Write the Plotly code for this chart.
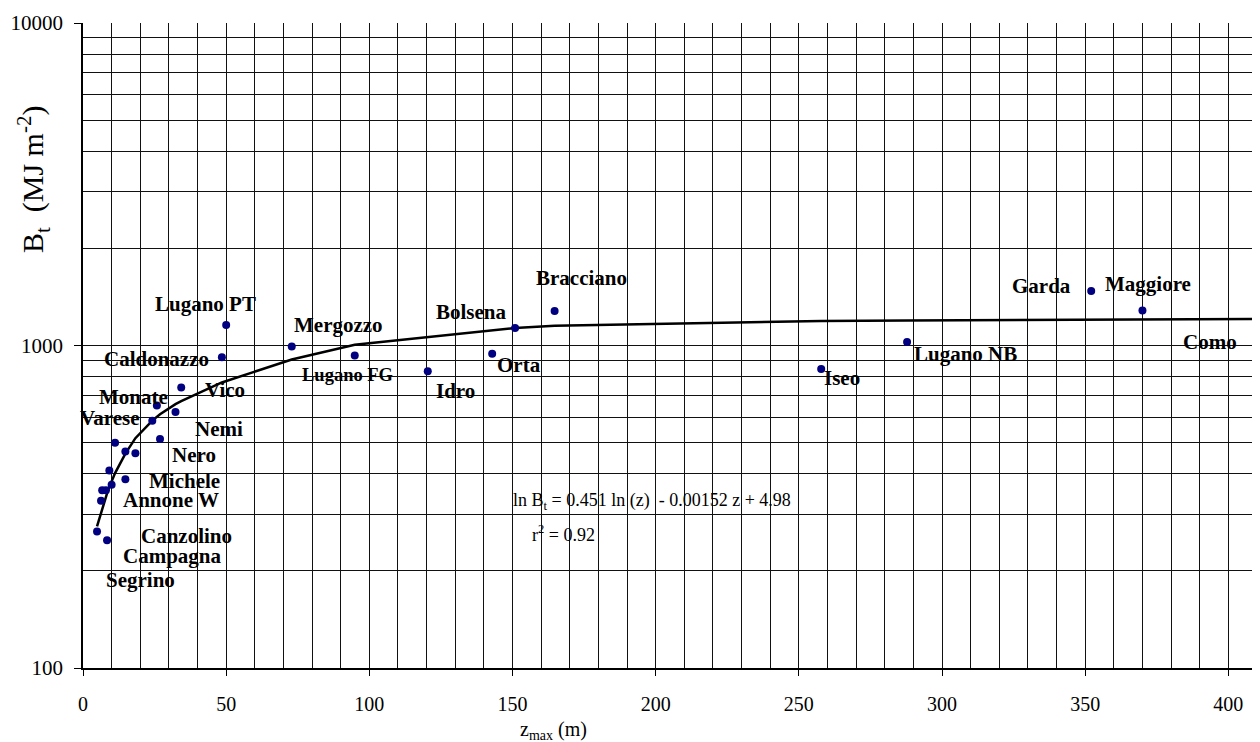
import math
import plotly.graph_objects as go

# ---- data ----
z_max = [4.9, 6.3, 6.7, 8.0, 8.4, 9.2, 10.0, 11.2, 14.8, 14.8, 18.3, 24.2, 25.8, 26.9,
         32.3, 34.3, 48.5, 50.0, 72.9, 94.9, 120.4, 142.9, 150.9, 164.7, 257.8, 287.8,
         352.1, 370.0, 409.7]
b_t = [265, 330, 356, 356, 249, 410, 370, 499, 469, 385, 463, 584, 651, 513,
       622, 741, 919, 1158, 993, 931, 832, 943, 1134, 1279, 846, 1026,
       1476, 1285, 1281]

# fitted curve as drawn in the reference
fit_z = [4.9, 6.3, 6.7, 8.0, 8.4, 9.2, 10.0, 11.2, 14.8, 18.3, 24.2, 25.8, 26.9,
         32.3, 34.3, 48.5, 50.0, 72.9, 94.9, 120.4, 142.9, 150.9, 164.7, 257.8,
         287.8, 352.1, 370.0, 409.7]
fit_b = [275, 303, 312, 340, 348, 364, 380, 402, 462, 516, 585, 600, 612,
         658, 672, 768, 776, 905, 1005, 1063, 1115, 1134, 1152, 1191,
         1196, 1203, 1205, 1209]

lake_labels = ["Lugano PT", "Mergozzo", "Caldonazzo", "Vico", "Monate", "Varese",
               "Pusiano", "Nemi", "Oggiono", "Nero", "Alserio", "Michele", "Annone W",
               "Comabbio", "Candia", "Canzolino", "Campagna", "Segrino", "Lugano FG",
               "Idro", "Orta", "Bolsena", "Bracciano", "Iseo", "Lugano NB", "Garda",
               "Maggiore", "Como"]

x_ticks = [0, 50, 100, 150, 200, 250, 300, 350, 400]
y_ticks = [100, 1000, 10000]
y_minor = [200, 300, 400, 500, 600, 700, 800, 900,
           2000, 3000, 4000, 5000, 6000, 7000, 8000, 9000]

equation_text = "ln B<sub>t</sub> = 0.451 ln (z) \u00a0- 0.00152 z + 4.98"
r2_text = "r<sup>2</sup> = 0.92"

# ---- layout positions for label text (data units) ----
label_pos = {
    "Lugano PT": (42.8, 1346), "Mergozzo": (89.4, 1160), "Caldonazzo": (25.8, 906),
    "Vico": (49.6, 727), "Monate": (17.8, 692), "Varese": (9.4, 596),
    "Pusiano": (-3.5, 555), "Nemi": (47.5, 551), "Oggiono": (-5.2, 465),
    "Nero": (38.7, 459), "Alserio": (-5.6, 387), "Michele": (35.3, 381),
    "Annone W": (30.7, 331), "Comabbio": (-9.1, 322), "Candia": (-6.1, 270),
    "Canzolino": (36.3, 257), "Campagna": (31.4, 223), "Segrino": (20.2, 188),
    "Lugano FG": (92.3, 809), "Idro": (130.2, 722), "Orta": (152.4, 868),
    "Bolsena": (135.8, 1273), "Bracciano": (174.0, 1619), "Iseo": (264.9, 791),
    "Lugano NB": (308.2, 938), "Garda": (334.7, 1530), "Maggiore": (371.9, 1552),
    "Como": (393.7, 1029),
}

SERIF = "Liberation Serif, Times New Roman, serif"

fig = go.Figure()
fig.add_trace(go.Scatter(x=fit_z, y=fit_b, mode="lines",
                         line=dict(color="black", width=2.5),
                         hoverinfo="skip", showlegend=False, cliponaxis=False))
fig.add_trace(go.Scatter(x=z_max, y=b_t, mode="markers",
                         marker=dict(color="#000080", size=8),
                         showlegend=False, cliponaxis=False))

annotations = []
for name in lake_labels:
    lx, ly = label_pos[name]
    size = 18.5 if name == "Lugano FG" else 21
    annotations.append(dict(x=lx, y=math.log10(ly), xref="x", yref="y",
                            yanchor="middle", xanchor="center",
                            text="<b>%s</b>" % name, showarrow=False,
                            font=dict(family=SERIF, size=size, color="black")))

annotations.append(dict(x=149.4, y=math.log10(328), xref="x", yref="y",
                        xanchor="left", yanchor="middle", text=equation_text,
                        showarrow=False, font=dict(family=SERIF, size=18, color="black")))
annotations.append(dict(x=156.0, y=math.log10(262), xref="x", yref="y",
                        xanchor="left", yanchor="middle", text=r2_text,
                        showarrow=False, font=dict(family=SERIF, size=18, color="black")))
annotations.append(dict(x=-0.0426, y=0.758, xref="paper", yref="paper",
                        xanchor="center", yanchor="middle", textangle=-90,
                        text="B<sub>t</sub> \u00a0(MJ m<sup>-2</sup>)", showarrow=False,
                        font=dict(family=SERIF, size=30, color="black")))
annotations.append(dict(x=0.401, y=-0.097, xref="paper", yref="paper",
                        xanchor="center", yanchor="middle",
                        text="z<sub>max</sub> (m)", showarrow=False,
                        font=dict(family=SERIF, size=20, color="black")))

fig.update_layout(
    width=1252, height=734,
    margin=dict(l=75, r=3, t=10, b=74),
    paper_bgcolor="white", plot_bgcolor="white",
    font=dict(family=SERIF, size=20, color="black"),
    annotations=annotations,
    xaxis=dict(range=[0, 410], tickvals=x_ticks, showgrid=True, gridcolor="#111",
               gridwidth=1, zeroline=False, showline=True, linecolor="black",
               linewidth=2, ticks="outside", ticklen=6, tickcolor="black",
               ticklabelstandoff=11, tickfont=dict(size=20),
               ticklabeloverflow="allow",
               minor=dict(dtick=10, tick0=0, showgrid=True, gridcolor="#111",
                          gridwidth=1, ticks="")),
    yaxis=dict(type="log", range=[2, 4], tickvals=y_ticks,
               ticktext=[str(v) for v in y_ticks], showgrid=True, gridcolor="#111",
               gridwidth=1, zeroline=False, showline=True, linecolor="black",
               linewidth=1.5, ticks="outside", ticklen=7, tickcolor="black",
               ticklabelstandoff=7, tickfont=dict(size=21),
               ticklabeloverflow="allow",
               minor=dict(tickvals=y_minor, showgrid=True, gridcolor="#111",
                          gridwidth=1, ticks="")),
)

fig.write_html("out.html")
